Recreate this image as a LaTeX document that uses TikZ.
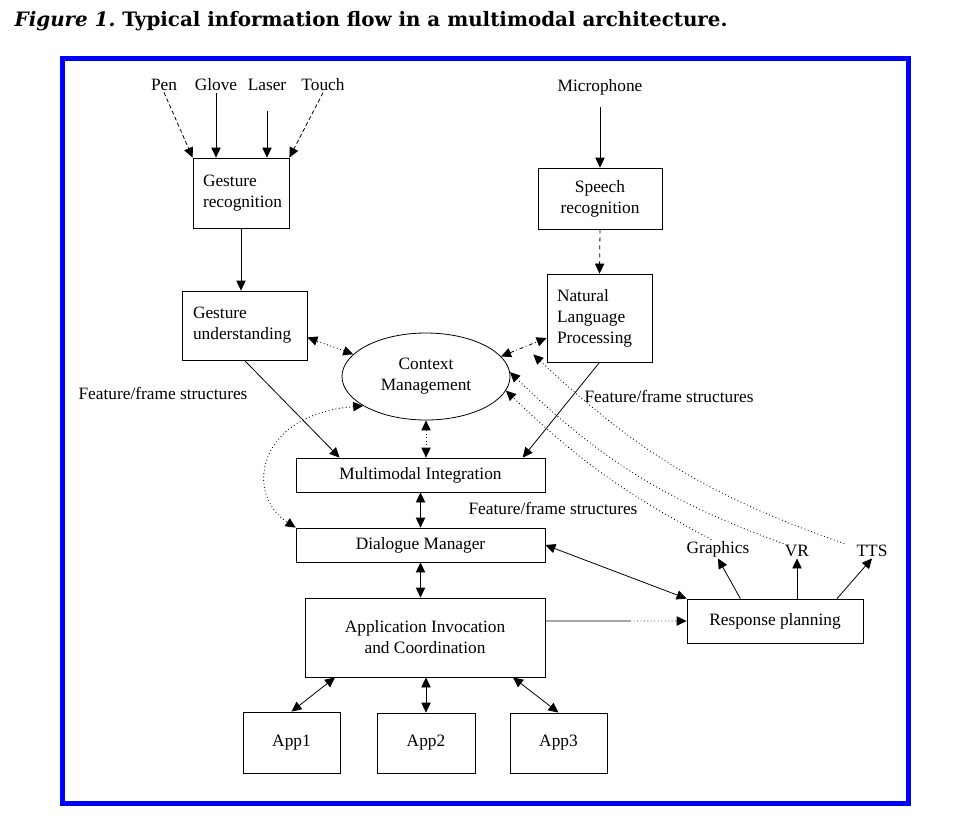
\documentclass[tikz,border=0pt]{standalone}
\usepackage{fontspec}
\setmainfont{Liberation Serif}
\newfontfamily\titlefont{DejaVu Serif}
\usetikzlibrary{positioning, shapes.geometric, arrows.meta, calc}

\newcommand{\dfont}{\fontsize{13}{15.75}\selectfont}

\begin{document}
\begin{tikzpicture}[
    x=0.75pt, y=-0.75pt,
    >={Triangle[length=7.5pt, width=7pt]},
    box/.style={
        rectangle, draw, line width=0.6pt,
        inner sep=0pt, align=center, font=\dfont
    },
    lbox/.style={box, align=left, inner xsep=7.5pt},
    lbl/.style={font=\dfont, inner sep=1pt},
    arr/.style={line width=0.6pt, ->},
    darr/.style={line width=0.6pt, <->},
    dots/.style={dotted, line width=0.7pt},
]
\useasboundingbox (0,0) rectangle (960,836);

% Title and frame
\node[anchor=base west, font=\titlefont\fontsize{14.9}{18}\selectfont\bfseries] (title) at (10,26)
    {\textit{Figure 1.}\ Typical information flow in a multimodal architecture.};
\draw[blue, line width=3.75pt] (62,58) rectangle (908,803);

% Input devices
\node[lbl] (pen) at (164,85) {Pen};
\node[lbl] (glove) at (216,85) {Glove};
\node[lbl] (laser) at (267,85) {Laser};
\node[lbl] (touch) at (323,85) {Touch};
\node[lbl] (mic) at (600,87) {Microphone};

% Recognition column
\node[lbox, text width=57pt, minimum height=52.5pt] (grec) at (241,193) {Gesture\\recognition};
\node[lbox, text width=77.25pt, inner xsep=8.25pt, minimum height=51.75pt] (gund) at (244.5,325.5) {Gesture\\understanding};
\node[box, minimum width=93pt, minimum height=45.75pt] (srec) at (600,198.5) {Speech\\recognition};
\node[lbox, text width=63.75pt, minimum height=66pt] (nlp) at (599.5,318) {Natural\\Language\\Processing};
\node[ellipse, draw, line width=0.6pt, inner sep=0pt, align=center, font=\dfont,
      minimum width=126pt, minimum height=65.25pt] (ctx) at (426,376.5) {Context\\Management};

% Integration column
\node[box, minimum width=186.75pt, minimum height=25.5pt] (mi) at (420.5,475) {Multimodal Integration};
\node[box, minimum width=186.75pt, minimum height=25.5pt] (dm) at (420.5,545) {Dialogue Manager};
\node[box, minimum width=180pt, minimum height=59.25pt] (aic) at (425,637.5) {Application Invocation\\and Coordination};
\node[box, minimum width=132pt, minimum height=33pt] (rp) at (775,621) {Response planning};

% Applications
\node[box, minimum width=72.75pt, minimum height=45.75pt] (app1) at (291.5,742.5) {App1};
\node[box, minimum width=73.5pt, minimum height=45pt] (app2) at (426,743) {App2};
\node[box, minimum width=72.75pt, minimum height=45pt] (app3) at (558.5,743) {App3};

% Outputs and labels
\node[lbl] (gfx) at (718,549) {Graphics};
\node[lbl] (vr) at (797,551) {VR};
\node[lbl] (tts) at (872,551) {TTS};
\node[lbl] (ffl) at (163,393) {Feature/frame structures};
\node[lbl] (ffm) at (553,508) {Feature/frame structures};
\node[lbl] (ffr) at (669,396) {Feature/frame structures};

% Device arrows
\draw[arr, densely dashed] (pen.south) -- (grec.north west);
\draw[arr] (glove.south) -- (glove.south |- grec.north);
\draw[arr, shorten <=14pt] (laser.south) -- (laser.south |- grec.north);
\draw[arr, densely dashed] (touch.south) -- (grec.north east);
\draw[arr] (grec.south) -- (grec.south |- gund.north);
\draw[arr, shorten <=8pt] (mic.south) -- (srec.north);
\draw[arr, dashed] (srec.south) -- (nlp.north);

% Into integration
\draw[arr] (gund.south) -- ([xshift=33pt]mi.north west);
\draw[arr] (nlp.south) -- ([xshift=-17pt]mi.north east);
\draw[darr, dots] (ctx.south) -- (ctx.south |- mi.north);
\draw[darr, dots] (ctx.163) -- ([yshift=-9pt]gund.east);
\draw[darr, dash dot] (ctx.15) -- ([yshift=-15pt]nlp.west);
\draw[darr, dots] (ctx.205) .. controls (255,415) and (245,495) .. (dm.north west);

% Dialogue and application
\draw[darr] (mi.south) -- (dm.north);
\draw[darr] (dm.south) -- (dm.south |- aic.north);
\draw[darr] (dm.east) -- (rp.north west);
\coordinate (brk) at ($(aic.east |- rp.west)!0.6!(rp.west)$);
\draw[line width=0.6pt] (aic.east |- rp.west) -- (brk);
\draw[arr, dots] (brk) -- (rp.west);
\draw[darr] ([xshift=-67.5pt]aic.south) -- (app1.north);
\draw[darr] (app2.north |- aic.south) -- (app2.north);
\draw[darr] ([xshift=66pt]aic.south) -- (app3.north);

% Response outputs
\draw[arr] ([xshift=-26pt]rp.north) -- (gfx.south);
\draw[arr] (vr.south |- rp.north) -- (vr.south);
\draw[arr] ([xshift=46.5pt]rp.north) -- (tts.south);

% Feedback to context
\draw[arr, dots] ([xshift=-5pt]gfx.north) to[bend left=8] (ctx.-10);
\draw[arr, dots] (vr.north west) to[bend left=12] (ctx.3);
\draw[arr, dots] ([xshift=-8pt]tts.north west) to[bend left=12] ([shift={(-10pt,6pt)}]nlp.south west);

\end{tikzpicture}
\end{document}
